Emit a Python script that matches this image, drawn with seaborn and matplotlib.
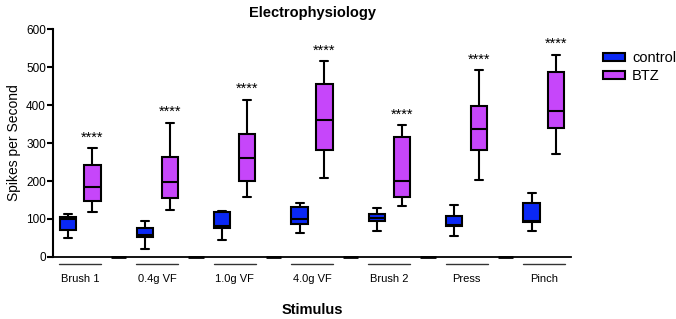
import pandas as pd
import numpy as np
import seaborn as sns
from matplotlib import pyplot as plt
from matplotlib.patches import Patch
import matplotlib.transforms as mtransforms

# stimulus categories
stimuli = ["Brush 1", "0.4g VF", "1.0g VF", "4.0g VF", "Brush 2", "Press", "Pinch"]

# box stats: [min, q1, median, q3, max]
control = [
    [49, 71, 99, 104, 112],
    [21, 52, 57, 75, 95],
    [44, 76, 82, 118, 122],
    [62, 87, 99, 132, 143],
    [69, 95, 103, 113, 129],
    [54, 81, 83, 108, 138],
    [68, 91, 95, 143, 169],
]
btz = [
    [119, 147, 184, 242, 286],
    [124, 154, 197, 263, 353],
    [159, 201, 260, 323, 414],
    [208, 281, 360, 454, 516],
    [135, 158, 201, 317, 347],
    [203, 281, 336, 397, 491],
    [272, 339, 383, 487, 532],
]
stars = ["****"] * 7

col_control = "#0a28f5"
col_btz = "#c646fa"

rows = []
for i, s in enumerate(stimuli):
    for v in control[i]:
        rows.append((s, "control", v))
    for v in btz[i]:
        rows.append((s, "BTZ", v))
df = pd.DataFrame(rows, columns=["stimulus", "group", "value"])

sns.set_style("ticks", {"axes.edgecolor": "black", "text.color": "black",
                        "xtick.color": "black", "ytick.color": "black",
                        "axes.labelcolor": "black"})
plt.rcParams['font.family'] = ['Liberation Sans', 'DejaVu Sans']

fig = plt.figure(figsize=(6.76, 3.19), dpi=100)
ax = fig.add_axes([0.0784, 0.1944, 0.7663, 0.7146])

sns.boxplot(data=df, x="stimulus", y="value", hue="group",
            palette={"control": col_control, "BTZ": col_btz}, saturation=1,
            whis=(0, 100), width=0.64, gap=0.34, linewidth=1.5,
            linecolor="black", legend=False, ax=ax)

ax.set_xlim(-0.35, 6.35)
ax.set_ylim(0, 600)
ax.set_yticks(range(0, 601, 100))
ax.tick_params(axis="y", length=4, width=1.5, labelsize=8.5, pad=1)
ax.tick_params(axis="x", length=0, labelsize=8, pad=12)
sns.despine(ax=ax)
ax.spines["left"].set_linewidth(1.5)
ax.spines["bottom"].set_linewidth(1.3)

# stars over BTZ boxes
for i in range(len(stimuli)):
    ax.text(i + 0.16, btz[i][4] + 28, stars[i], ha="center", va="center",
            fontsize=10.5)

# group brackets under axis and slightly thicker gaps on the axis
trans = mtransforms.blended_transform_factory(ax.transData, ax.transAxes)
for i in range(len(stimuli)):
    ax.plot([i - 0.27, i + 0.27], [-0.032, -0.032], color="#333333", lw=1,
            transform=trans, clip_on=False)
for i in range(len(stimuli) - 1):
    ax.plot([i + 0.4, i + 0.6], [0, 0], color="black", lw=2.0,
            transform=trans, clip_on=False, solid_capstyle="butt")

ax.set_xlabel("Stimulus", fontsize=10.5, fontweight="bold", labelpad=14)
ax.set_ylabel("Spikes per Second", fontsize=10, labelpad=4)
ax.set_title("Electrophysiology", fontsize=10.5, fontweight="bold", pad=9)

handles = [Patch(facecolor=col_control, edgecolor="black", lw=1.5, label="control"),
           Patch(facecolor=col_btz, edgecolor="black", lw=1.5, label="BTZ")]
ax.legend(handles=handles, loc="upper left", bbox_to_anchor=(1.05, 0.93),
          frameon=False, fontsize=10.5, handlelength=1.5, handleheight=0.45,
          handletextpad=0.5, labelspacing=0.3, borderaxespad=0)

fig.savefig("out.png", dpi=100)
